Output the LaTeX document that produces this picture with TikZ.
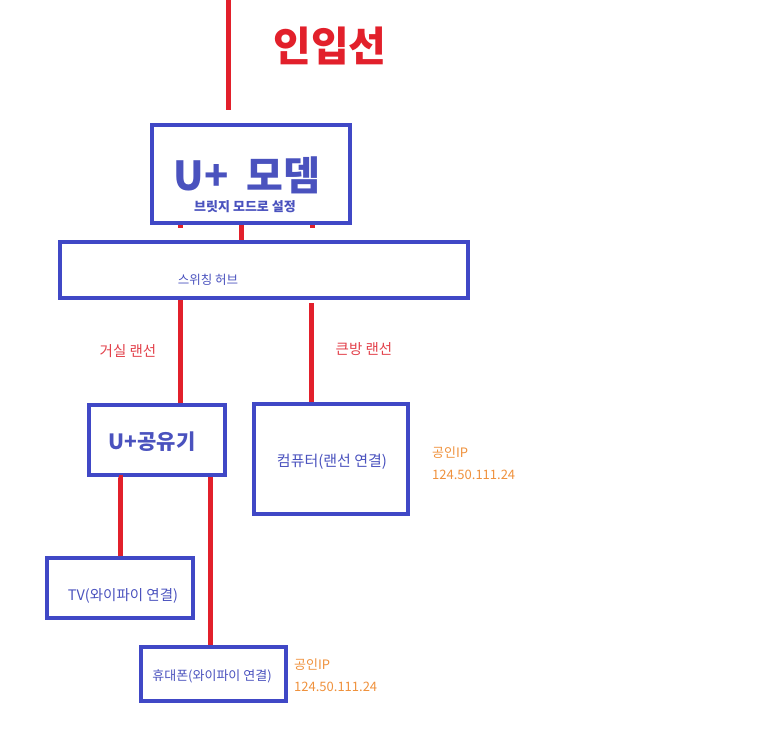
\documentclass[tikz,border=0pt]{standalone}
\usepackage{fontspec}
\setmainfont{Noto Sans CJK KR}
\usepackage{xcolor}
\usepackage{tikz}
\definecolor{boxblue}{HTML}{4048C6}
\definecolor{textblue}{HTML}{4A52BE}
\definecolor{lanred}{HTML}{E2202B}
\definecolor{labelred}{HTML}{E2404A}
\definecolor{iporange}{HTML}{EF913C}

\begin{document}
\begin{tikzpicture}[x=1pt, y=-1pt,
		device/.style={draw=boxblue, line width=4.5pt, inner sep=0pt},
		lan/.style={draw=lanred, line width=5pt},
		txt/.style={text=textblue, inner sep=0pt},
		ip/.style={text=iporange, inner sep=0pt, anchor=west, font=\fontsize{13}{16}\selectfont, align=left}]
		\useasboundingbox (0,0) rectangle (760,737);
		% boxes
		\node[device, minimum width=198pt, minimum height=98pt] (modem) at (251,174) {};
		\node[device, minimum width=408pt, minimum height=56pt] (hub) at (264,270) {};
		\node[device, minimum width=136pt, minimum height=70pt] (router) at (157,440) {};
		\node[device, minimum width=154pt, minimum height=110pt] (pc) at (331,459) {};
		\node[device, minimum width=146pt, minimum height=60pt] (tv) at (120,588) {};
		\node[device, minimum width=145pt, minimum height=54pt] (phone) at (213.5,674) {};
		% texts
		\node[text=lanred, font=\fontsize{41}{44}\selectfont\bfseries] (title) at (330,46) {인입선};
		\node[txt, font=\fontsize{40}{44}\selectfont\bfseries] (modemname) at (247,175) {U+\hspace{18pt}모뎀};
		\node[txt, font=\fontsize{13}{15}\selectfont\bfseries] (modemmode) at (245,207) {브릿지 모드로 설정};
		\node[txt, font=\fontsize{12.5}{14}\selectfont] (hubname) at (208,280) {스위칭 허브};
		\node[text=labelred, font=\fontsize{14.5}{16}\selectfont] (livingroom) at (128,351) {거실 랜선};
		\node[text=labelred, font=\fontsize{14.5}{16}\selectfont] (bigroom) at (364,349) {큰방 랜선};
		\node[txt, font=\fontsize{21}{24}\selectfont\bfseries] (routername) at (152,442) {U+공유기};
		\node[txt, font=\fontsize{15}{17}\selectfont] (pcname) at (332,462) {컴퓨터(랜선 연결)};
		\node[txt, font=\fontsize{14.5}{16}\selectfont] (tvname) at (123,596) {TV(와이파이 연결)};
		\node[txt, font=\fontsize{13}{16}\selectfont] (phonename) at (212,676) {휴대폰(와이파이 연결)};
		\node[ip] (pcip) at (432,463) {공인IP\\[6pt]124.50.111.24};
		\node[ip] (phoneip) at (294,675) {공인IP\\[6pt]124.50.111.24};
		% lan lines
		\coordinate (feedtop) at (228,0);
		\coordinate (feedend) at (228,110);
		\draw[lan] (feedtop) -- (feedend);
		\draw[lan] ([xshift=-10pt]modem.south) -- ([xshift=-10pt]modem.south |- hub.north);
		\draw[lan] ([xshift=-71pt]modem.south) -- ++(0,3);
		\draw[lan] ([xshift=61pt]modem.south) -- ++(0,3);
		\draw[lan] ([xshift=-84pt]hub.south) -- ([xshift=-84pt]hub.south |- router.north);
		\draw[lan] ([xshift=47pt,yshift=-3pt]hub.south) -- ([xshift=47pt]hub.south |- pc.north);
		\draw[lan] ([xshift=-38pt]router.south) -- (router.south -| tv.north) -- (tv.north);
		\draw[lan] ([xshift=53pt]router.south) -- ([xshift=53pt]router.south |- phone.north);
	\end{tikzpicture}
\end{document}
